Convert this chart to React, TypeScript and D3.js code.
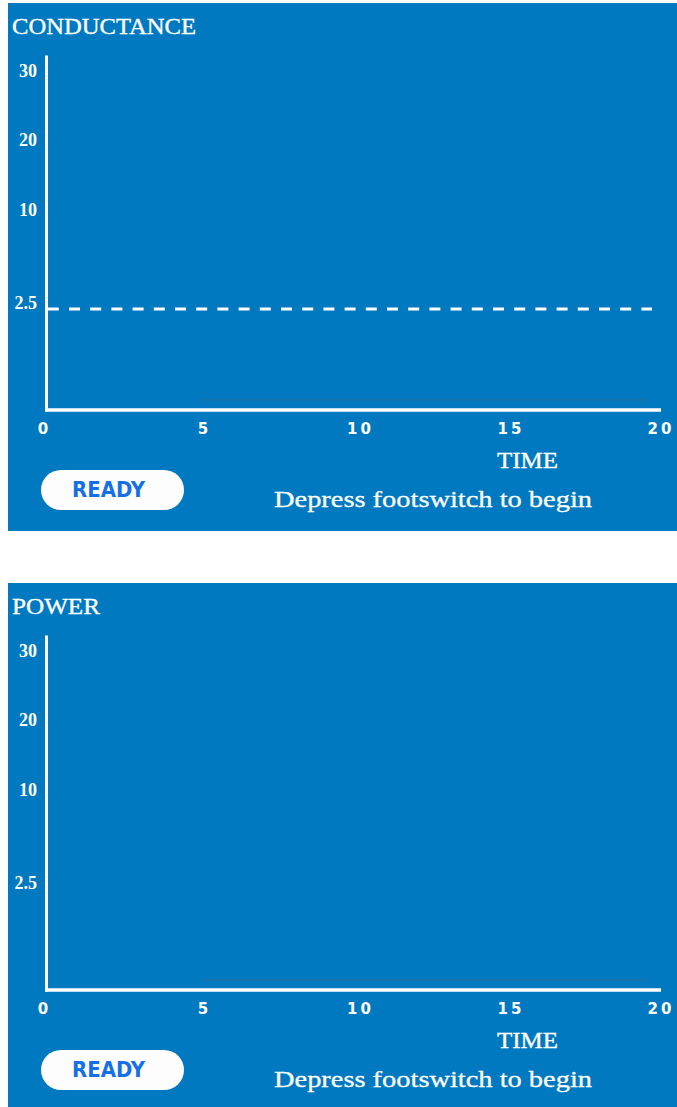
import React from "react";
import * as d3 from "d3";

// ---- data ----
const panelTitles: string[] = ["CONDUCTANCE", "POWER"];
const showThreshold: boolean[] = [true, false];
const yTickValues: number[] = [30, 20, 10, 2.5];
const yTickLabels: string[] = ["30", "20", "10", "2.5"];
const xTickValues: number[] = [0, 5, 10, 15, 20];
const xTickLabels: string[] = ["0", "5", "10", "15", "20"];
const thresholdValue = 2.5;
const xAxisLabel = "TIME";
const statusLabel = "READY";
const promptText = "Depress footswitch to begin";
// faint residual trace near the baseline (start, end time; level)
const traceTimes: number[] = [5, 19.6];
const traceLevel = 0.25;

const W = 677;
const H = 1107;
const BLUE = "#0079c1";
const PANEL_OFFSET = 580;

// display scales (device uses a non-uniform vertical scale)
const yScale = d3.scaleLinear().domain([0, 2.5, 10, 20, 30]).range([410, 309, 216, 146, 77]);
const xScale = d3.scaleLinear().domain([0, 5, 10, 15, 20]).range([43, 203, 359, 509.5, 659.5]);

function Panel({ idx }: { idx: number }) {
  const top = idx * PANEL_OFFSET;
  const tickLS = 3;
  const trace = d3.line<number>()
    .x((t) => xScale(t))
    .y(() => yScale(traceLevel));
  const serif = "'Liberation Serif', 'Times New Roman', serif";
  return (
    <g transform={`translate(0,${top})`}>
      <rect x={8} y={3} width={W - 8} height={528} fill={BLUE} />
      <text x={12} y={34} fill="#fff" stroke="#fff" strokeWidth={0.35} fontFamily={serif} fontSize={24}
        textLength={idx === 0 ? 184 : 88} lengthAdjust="spacingAndGlyphs">
        {panelTitles[idx]}
      </text>
      {/* faint trace */}
      <path d={trace(traceTimes) || ""} stroke="#3f6a8e" strokeOpacity={0.7} strokeWidth={1} fill="none" />
      {/* y tick labels */}
      {yTickValues.map((v, i) => (
        <text key={i} x={37} y={yScale(v)} textAnchor="end" fill="#fff"
          fontFamily={serif} fontWeight="bold" fontSize={18}>
          {yTickLabels[i]}
        </text>
      ))}
      {/* threshold */}
      {showThreshold[idx] && (
        <line x1={47.8} x2={652} y1={yScale(thresholdValue)} y2={yScale(thresholdValue)}
          stroke="#fff" strokeWidth={3} strokeDasharray="11 10.2" />
      )}
      {/* axes */}
      <line x1={46.5} x2={46.5} y1={55.5} y2={yScale(0) + 1.5} stroke="#fff" strokeWidth={3} />
      <line x1={45} x2={661} y1={yScale(0)} y2={yScale(0)} stroke="#fff" strokeWidth={3.5} />
      {xTickValues.map((v, i) => (
        <text key={i} x={xScale(v)} dx={tickLS / 2} y={434} textAnchor="middle" fill="#fff"
          fontFamily="'DejaVu Sans', sans-serif" fontWeight="bold" fontSize={15} letterSpacing={tickLS}>
          {xTickLabels[i]}
        </text>
      ))}
      <text x={497} y={468} fill="#fff" stroke="#fff" strokeWidth={0.35} fontFamily={serif} fontSize={24}
        textLength={61} lengthAdjust="spacingAndGlyphs">
        {xAxisLabel}
      </text>
      {/* status pill */}
      <rect x={41} y={470} width={143} height={40} rx={20} ry={20} fill="#fdfdfd" />
      <text x={108.5} y={497} textAnchor="middle" fill="#1570e6"
        fontFamily="'DejaVu Sans Condensed', 'DejaVu Sans', sans-serif" fontWeight="bold" fontSize={21}
        textLength={73} lengthAdjust="spacingAndGlyphs">
        {statusLabel}
      </text>
      <text x={274} y={507} fill="#fff" stroke="#fff" strokeWidth={0.3} fontFamily={serif} fontSize={24}
        textLength={318} lengthAdjust="spacingAndGlyphs">
        {promptText}
      </text>
    </g>
  );
}

export default function App() {
  return (
    <svg width={W} height={H} viewBox={`0 0 ${W} ${H}`}
      style={{ position: "absolute", left: 0, top: 0, display: "block", background: "#fff" }}>
      {panelTitles.map((_, i) => (
        <Panel key={i} idx={i} />
      ))}
    </svg>
  );
}
